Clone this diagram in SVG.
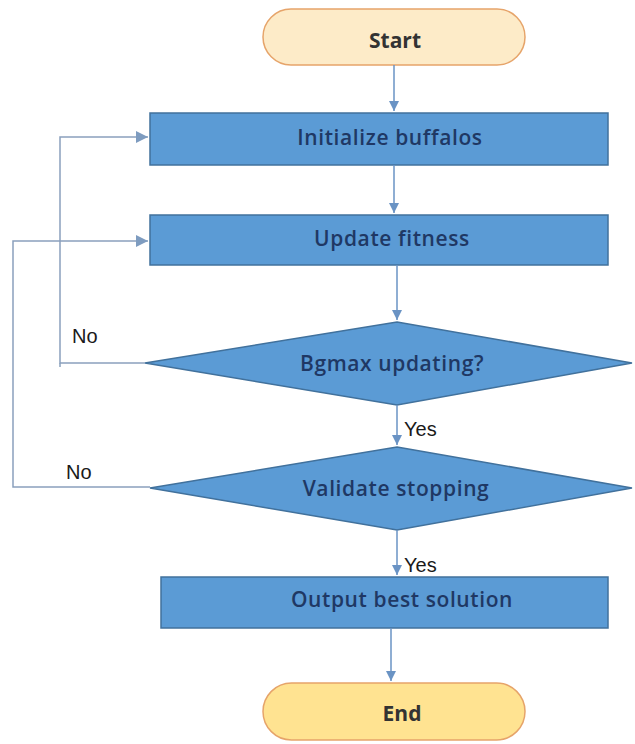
<svg xmlns="http://www.w3.org/2000/svg" width="635" height="744" viewBox="0 0 635 744">
<defs>
<marker id="ah" viewBox="0 0 10 10" refX="10" refY="5" markerWidth="10" markerHeight="10" markerUnits="userSpaceOnUse" orient="auto">
<path d="M0,0 L10,5 L0,10 z" fill="#6A93C4"/>
</marker>
<marker id="ahg" viewBox="0 0 10 10" refX="10" refY="5" markerWidth="12" markerHeight="12" markerUnits="userSpaceOnUse" orient="auto">
<path d="M0,0 L10,5 L0,10 z" fill="#7E9CC0"/>
</marker>
</defs>
<style>
.term{fill:#FDEBC8;stroke:#E6A46A;stroke-width:1.5}
.term2{fill:#FFE391;stroke:#E6A46A;stroke-width:1.5}
.box{fill:#5B9BD5;stroke:#41719C;stroke-width:1.5}
.t{font-family:"Open Sans","DejaVu Sans",sans-serif;font-size:21px;font-weight:600;letter-spacing:0.6px;fill:#1F3864;text-anchor:middle;dominant-baseline:central}
.tt{font-family:"Open Sans","DejaVu Sans",sans-serif;font-size:21px;font-weight:700;fill:#333333;text-anchor:middle;dominant-baseline:central}
.lbl{font-family:"Liberation Sans",Arial,sans-serif;font-size:20px;fill:#1a1a1a;dominant-baseline:central}
.c{fill:none;stroke:#6A93C4;stroke-width:1.5}
.cg{fill:none;stroke:#8AA0BD;stroke-width:1.5}
</style>
<rect width="635" height="744" fill="#ffffff"/>
<g id="start"><rect class="term" x="263" y="9" width="262" height="56" rx="28"/><text class="tt" x="395" y="40">Start</text></g>
<g id="init"><rect class="box" x="150" y="113" width="458" height="52"/><text class="t" x="390" y="137">Initialize buffalos</text></g>
<g id="update"><rect class="box" x="150" y="215" width="458" height="50"/><text class="t" x="392" y="238">Update fitness</text></g>
<g id="bgmax"><polygon class="box" points="397,322 632,363 397,405 145,363"/><text class="t" x="392" y="363">Bgmax updating?</text></g>
<g id="validate"><polygon class="box" points="397,447 632,488 397,530 150,488"/><text class="t" x="396" y="488">Validate stopping</text></g>
<g id="output"><rect class="box" x="161" y="577" width="447" height="51"/><text class="t" x="402" y="599">Output best solution</text></g>
<g id="end"><rect class="term2" x="263" y="683" width="262" height="57" rx="28.5"/><text class="tt" x="402" y="713">End</text></g>
<g id="connectors">
<path class="c" d="M394,65 V111" marker-end="url(#ah)"/>
<path class="c" d="M394,165 V213" marker-end="url(#ah)"/>
<path class="c" d="M397,265 V320" marker-end="url(#ah)"/>
<path class="c" d="M397,405 V445" marker-end="url(#ah)"/>
<path class="c" d="M397,530 V575" marker-end="url(#ah)"/>
<path class="c" d="M391,628 V681" marker-end="url(#ah)"/>
<path class="cg" d="M145,363 H60 V137 H148" marker-end="url(#ahg)"/>
<path class="cg" d="M60,363 V367"/>
<path class="cg" d="M150,487 H13 V241 H148" marker-end="url(#ahg)"/>
<text class="lbl" x="72" y="336">No</text>
<text class="lbl" x="66" y="472">No</text>
<text class="lbl" x="404" y="429">Yes</text>
<text class="lbl" x="404" y="565">Yes</text>
</g>
</svg>
